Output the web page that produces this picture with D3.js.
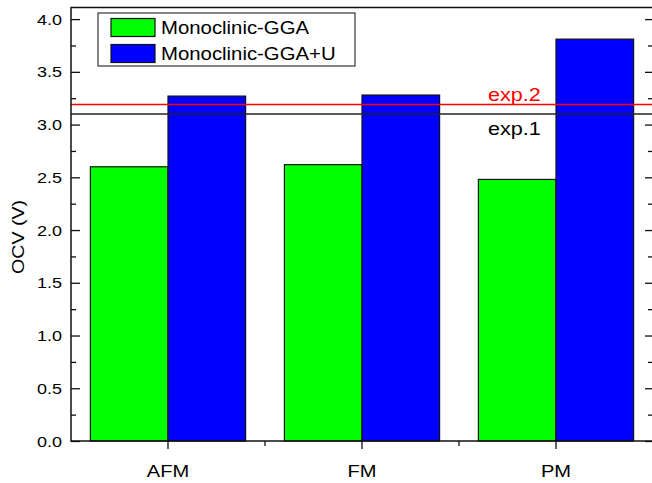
<!DOCTYPE html>
<html>
<head>
<meta charset="utf-8">
<script src="https://cdn.jsdelivr.net/npm/d3@7"></script>
<style>
body { margin: 0; background: #fff; }
text { font-family: "Liberation Sans", Arial, sans-serif; }
</style>
</head>
<body>
<div id="chart"></div>
<script>
// categories and series
var phases = ["AFM", "FM", "PM"];
var seriesNames = ["Monoclinic-GGA", "Monoclinic-GGA+U"];
var gga = [2.60, 2.62, 2.48];
var ggaU = [3.27, 3.28, 3.81];
var seriesColors = ["#00ff00", "#0000ff"];

// experimental reference lines
var expNames = ["exp.1", "exp.2"];
var expValues = [3.10, 3.19];
var expColors = ["#222", "#ff0000"];

var yTicks = [0.0, 0.5, 1.0, 1.5, 2.0, 2.5, 3.0, 3.5, 4.0];

var width = 652,
	height = 483,
	plotLeft = 71,
	plotRight = 653,
	plotTop = 7.5,
	plotBottom = 441;

var svg = d3.select("#chart").append("svg")
	.attr("width", width)
	.attr("height", height);

var x = d3.scaleBand().domain(phases).range([plotLeft, plotRight]).paddingInner(0.2).paddingOuter(0.1);
var xSub = d3.scaleBand().domain(seriesNames).range([0, x.bandwidth()]);
var y = d3.scaleLinear().domain([0, 4.11]).range([plotBottom, plotTop]);

//stretch text a bit wider, the original font is wider than Arial
function widen(sel, k) {
	sel.each(function () {
		var w = this.getComputedTextLength();
		d3.select(this).attr("textLength", w * k).attr("lengthAdjust", "spacingAndGlyphs");
	});
}

// bars
var data = [gga, ggaU];
data.forEach(function (vals, s) {
	svg.append("g").selectAll("rect")
		.data(vals)
		.enter().append("rect")
		.attr("x", function (d, i) { return x(phases[i]) + xSub(seriesNames[s]); })
		.attr("y", function (d) { return y(d); })
		.attr("width", xSub.bandwidth())
		.attr("height", function (d) { return y(0) - y(d); })
		.attr("fill", seriesColors[s])
		.attr("stroke", "#111")
		.attr("stroke-width", 1.2);
});

// exp lines
svg.append("g").selectAll("line")
	.data(expValues)
	.enter().append("line")
	.attr("x1", plotLeft).attr("x2", plotRight)
	.attr("y1", function (d) { return y(d); })
	.attr("y2", function (d) { return y(d); })
	.attr("stroke", function (d, i) { return expColors[i]; })
	.attr("stroke-width", 1.4);

var expLabels = svg.append("g").selectAll("text")
	.data(expNames)
	.enter().append("text")
	.text(function (d) { return d; })
	.attr("x", 488)
	.attr("y", function (d, i) { return i == 0 ? y(expValues[0]) + 21 : y(expValues[1]) - 4; })
	.attr("fill", function (d, i) { return expColors[i] == "#222" ? "#000" : expColors[i]; })
	.style("font-size", "18px");
widen(expLabels, 1.2);

// y axis left (ticks inward)
var yMinor = d3.range(0, 4.01, 0.25);
var yAxisL = svg.append("g")
	.attr("transform", "translate(" + plotLeft + ",0)")
	.call(d3.axisRight(y).tickValues(yMinor).tickSize(5).tickFormat(""));
yAxisL.selectAll(".tick line").filter(function (d) { return yTicks.indexOf(d) >= 0; }).attr("x2", 9);
yAxisL.select(".domain").remove();
yAxisL.selectAll(".tick line").attr("stroke", "#111").attr("stroke-width", 1.3);

var yLabels = svg.append("g").selectAll("text")
	.data(yTicks)
	.enter().append("text")
	.text(function (d) { return d.toFixed(1); })
	.attr("x", 62)
	.attr("y", function (d) { return y(d) + 5.5; })
	.attr("text-anchor", "end")
	.style("font-size", "15px");
widen(yLabels, 1.2);

// y axis right (ticks inward, no labels)
var yAxisR = svg.append("g")
	.attr("transform", "translate(" + plotRight + ",0)")
	.call(d3.axisLeft(y).tickValues(yMinor).tickSize(5).tickFormat(""));
yAxisR.selectAll(".tick line").filter(function (d) { return yTicks.indexOf(d) >= 0; }).attr("x2", -8);
yAxisR.select(".domain").remove();
yAxisR.selectAll(".tick line").attr("stroke", "#111").attr("stroke-width", 1.3);

// x axis ticks (outward)
var xAxis = svg.append("g")
	.attr("transform", "translate(0," + plotBottom + ")")
	.call(d3.axisBottom(x).tickSize(8).tickFormat(""));
xAxis.select(".domain").remove();
xAxis.selectAll(".tick line").attr("stroke", "#111").attr("stroke-width", 1.3);

var minorX = [(x("AFM") + x.bandwidth() + x("FM")) / 2, (x("FM") + x.bandwidth() + x("PM")) / 2];
svg.append("g").selectAll("line")
	.data(minorX)
	.enter().append("line")
	.attr("x1", function (d) { return d; }).attr("x2", function (d) { return d; })
	.attr("y1", plotBottom).attr("y2", plotBottom + 5)
	.attr("stroke", "#111").attr("stroke-width", 1.3);

var xLabels = svg.append("g").selectAll("text")
	.data(phases)
	.enter().append("text")
	.text(function (d) { return d; })
	.attr("x", function (d) { return x(d) + x.bandwidth() / 2; })
	.attr("y", 477)
	.attr("text-anchor", "middle")
	.style("font-size", "17px");
widen(xLabels, 1.18);

// frame
svg.append("rect")
	.attr("x", plotLeft).attr("y", plotTop)
	.attr("width", plotRight - plotLeft).attr("height", plotBottom - plotTop)
	.attr("fill", "none")
	.attr("stroke", "#111")
	.attr("stroke-width", 1.5);

// y title
var yTitle = svg.append("text")
	.text("OCV (V)")
	.attr("transform", "translate(24,237) rotate(-90)")
	.attr("text-anchor", "middle")
	.style("font-size", "17px");
widen(yTitle, 1.15);

// legend
var legend = svg.append("g");
legend.append("rect")
	.attr("x", 98).attr("y", 13)
	.attr("width", 257).attr("height", 53)
	.attr("fill", "#fff")
	.attr("stroke", "#444")
	.attr("stroke-width", 1.3);
legend.selectAll("rect.sw")
	.data(seriesNames)
	.enter().append("rect")
	.attr("class", "sw")
	.attr("x", 111)
	.attr("y", function (d, i) { return 18.5 + i * 26; })
	.attr("width", 44)
	.attr("height", 18)
	.attr("fill", function (d, i) { return seriesColors[i]; })
	.attr("stroke", "#111")
	.attr("stroke-width", 1.2);
var legText = legend.selectAll("text")
	.data(seriesNames)
	.enter().append("text")
	.text(function (d) { return d; })
	.attr("x", 161)
	.attr("y", function (d, i) { return 34 + i * 26; })
	.style("font-size", "18px");
widen(legText, 1.13);
</script>
</body>
</html>
